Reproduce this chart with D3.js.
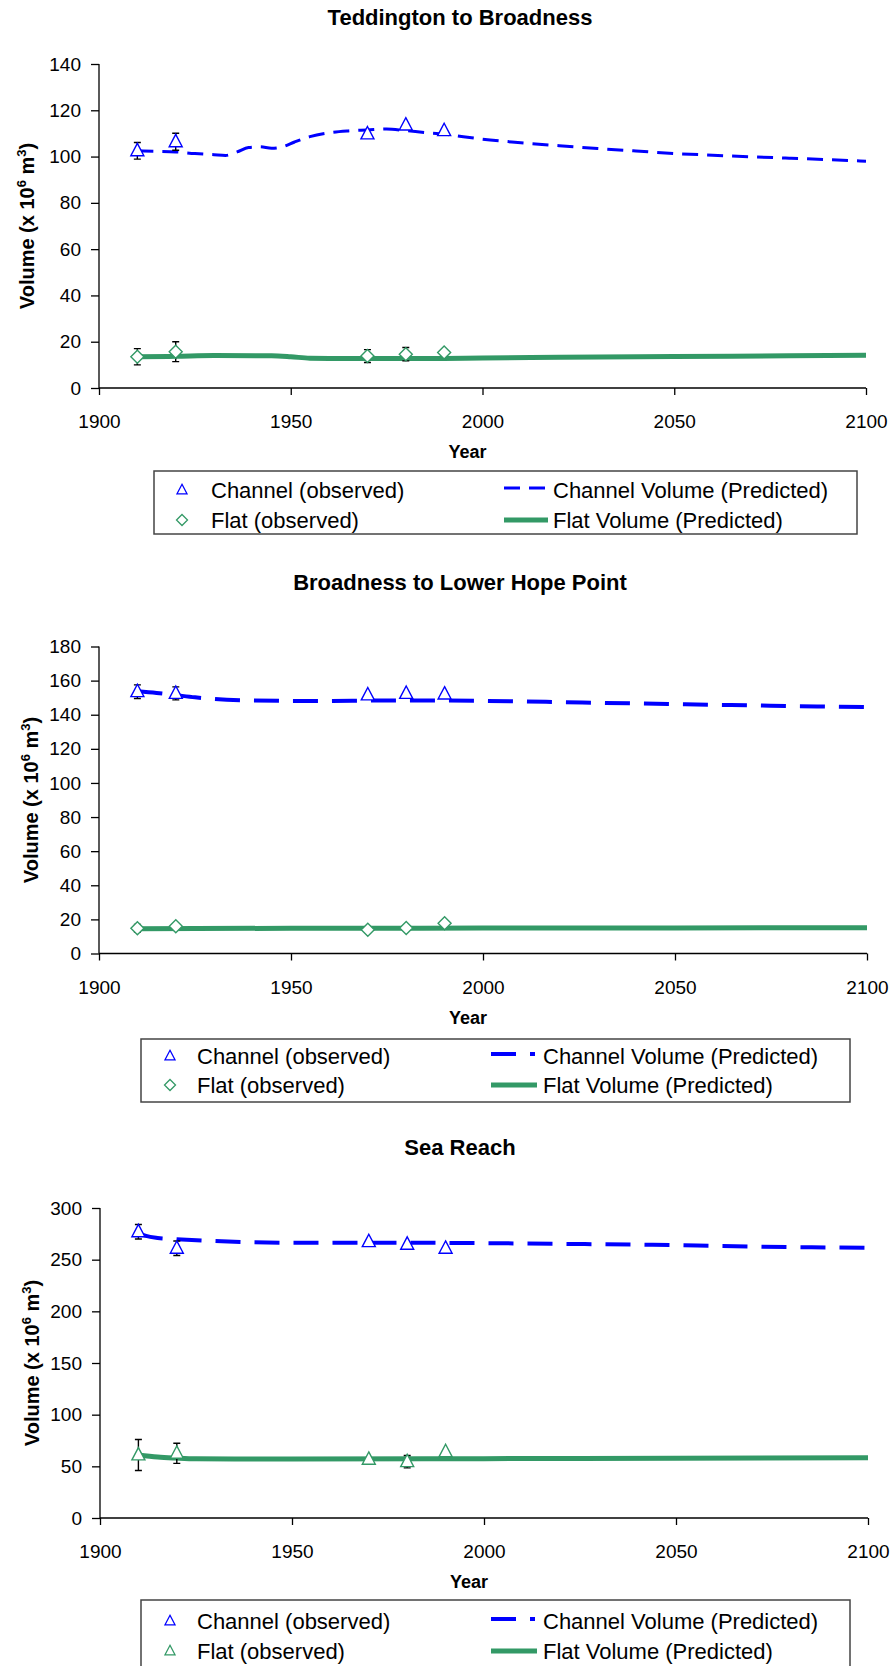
<!DOCTYPE html>
<html><head><meta charset="utf-8">
<script src="https://cdn.jsdelivr.net/npm/d3@7/dist/d3.min.js"></script>
<style>
body{margin:0;background:#fff}
svg{display:block}
text{font-family:"Liberation Sans",Arial,Helvetica,sans-serif;fill:#000}
</style>
</head><body>
<svg id="c" width="893" height="1666"></svg>
<script>
// ---------- shared labels ----------
const xTickValues = [1900, 1950, 2000, 2050, 2100];
const obsYears = [1910, 1920, 1970, 1980, 1990];
const legendLabels = ["Channel (observed)", "Flat (observed)", "Channel Volume (Predicted)", "Flat Volume (Predicted)"];
const chartTitles = ["Teddington to Broadness", "Broadness to Lower Hope Point", "Sea Reach"];
const xAxisTitle = "Year";

// ---------- Chart 1: Teddington to Broadness ----------
const ted_yTicks = [0, 20, 40, 60, 80, 100, 120, 140];
const ted_channelObs = [102.5, 106.4, 109.8, 113.6, 111.2];
const ted_channelErr = [3.6, 3.7, 0, 0, 0];
const ted_flatObs = [13.5, 15.7, 13.8, 14.6, 15.3];
const ted_flatErr = [3.5, 4.3, 2.8, 2.9, 0];
const ted_predYears = [1910, 1915, 1920, 1925, 1930, 1933, 1936, 1939, 1942, 1945, 1948, 1951, 1955, 1960, 1965, 1970, 1975, 1980, 1985, 1990, 1995, 2000, 2010, 2020, 2030, 2040, 2050, 2060, 2070, 2080, 2090, 2100];
const ted_channelPred = [102.5, 102.3, 102.0, 101.3, 100.8, 100.5, 102.0, 103.9, 104.2, 103.6, 104.3, 106.3, 108.6, 110.3, 111.1, 111.5, 111.9, 111.2, 110.4, 109.7, 108.6, 107.5, 106.0, 104.7, 103.5, 102.4, 101.3, 100.6, 99.9, 99.3, 98.7, 98.0];
const ted_flatPredYears = [1910, 1920, 1930, 1945, 1950, 1955, 1965, 1980, 1990, 2000, 2020, 2050, 2080, 2100];
const ted_flatPred = [13.5, 13.7, 14.0, 13.9, 13.5, 12.9, 12.7, 12.7, 12.8, 13.0, 13.3, 13.6, 13.9, 14.1];

// ---------- Chart 2: Broadness to Lower Hope Point ----------
const blh_yTicks = [0, 20, 40, 60, 80, 100, 120, 140, 160, 180];
const blh_channelObs = [153.5, 152.5, 151.6, 152.5, 152.1];
const blh_channelErr = [4.0, 3.8, 0, 0, 0];
const blh_flatObs = [14.8, 16.0, 13.9, 14.9, 17.8];
const blh_flatErr = [2.2, 0, 0, 0, 0];
const blh_predYears = [1910, 1915, 1920, 1925, 1930, 1940, 1950, 1960, 1970, 1980, 1990, 2000, 2010, 2020, 2030, 2040, 2050, 2060, 2070, 2080, 2090, 2100];
const blh_channelPred = [153.8, 152.8, 151.5, 150.2, 149.2, 148.3, 148.1, 148.1, 148.3, 148.4, 148.3, 148.1, 147.8, 147.4, 147.0, 146.6, 146.2, 145.8, 145.5, 145.1, 144.8, 144.5];
const blh_flatPredYears = [1910, 1950, 2000, 2050, 2100];
const blh_flatPred = [14.5, 14.8, 14.9, 15.0, 15.1];

// ---------- Chart 3: Sea Reach ----------
const sea_yTicks = [0, 50, 100, 150, 200, 250, 300];
const sea_channelObs = [277.0, 261.0, 267.4, 264.9, 261.0];
const sea_channelErr = [7, 7, 0, 0, 0];
const sea_flatObs = [61.0, 62.6, 56.8, 54.5, 64.2];
const sea_flatErr = [15, 9.7, 0, 6, 0];
const sea_predYears = [1910, 1912, 1915, 1920, 1930, 1940, 1950, 1960, 1980, 2000, 2020, 2040, 2050, 2060, 2070, 2080, 2090, 2100];
const sea_channelPred = [276.0, 273.0, 271.0, 269.8, 268.0, 266.8, 266.4, 266.3, 266.3, 266.0, 265.3, 264.5, 264.0, 263.3, 262.7, 262.2, 261.8, 261.4];
const sea_flatPredYears = [1910, 1915, 1920, 1925, 1935, 1950, 2000, 2050, 2100];
const sea_flatPred = [61.0, 59.0, 58.0, 57.3, 57.0, 57.0, 57.4, 57.9, 58.3];

// ---------- styles ----------
const BLUE = "#0000ff", GREEN = "#339966";

const svg = d3.select("#c");

function triPath(s){ const h = s*0.95; return `M0,${-h*0.6}L${s/2},${h*0.4}L${-s/2},${h*0.4}Z`; }
function diaPath(s){ const r = s/2; return `M0,${-r}L${r},0L0,${r}L${-r},0Z`; }

function drawChart(c){
  const g = svg.append("g");
  const x = d3.scaleLinear().domain([1900, 2100]).range([c.left, c.right]);
  const y = d3.scaleLinear().domain([0, c.yMax]).range([c.bottom, c.top]);

  // title
  g.append("text").attr("x", 460).attr("y", c.titleY).attr("text-anchor", "middle")
    .style("font-size", "22px").style("font-weight", "bold").text(c.title);

  // axes
  const yAxis = d3.axisLeft(y).tickValues(c.yTicks).tickSize(8).tickPadding(10).tickFormat(d3.format("d"));
  const ya = g.append("g").attr("transform", `translate(${c.left},0)`).call(yAxis);
  const xAxis = d3.axisBottom(x).tickValues(xTickValues).tickSize(7).tickPadding(0).tickFormat(d3.format("d"));
  const xa = g.append("g").attr("transform", `translate(0,${c.bottom})`).call(xAxis);
  [ya, xa].forEach(a => {
    a.select(".domain").attr("stroke", "#000").attr("stroke-width", 1.3);
    a.selectAll(".tick line").attr("stroke", "#000").attr("stroke-width", 1.3);
    a.selectAll("text").style("font-size", "19px").attr("fill", "#000");
  });
  ya.select(".domain").attr("d", `M-0,${c.bottom}V${c.top}`);
  xa.select(".domain").attr("d", `M${c.left},0H${c.right}`);
  xa.selectAll(".tick text").attr("y", 40).attr("dy", null);

  // axis titles
  g.append("text").attr("x", (c.left + c.right) / 2 - 15).attr("y", c.bottom + 70).attr("text-anchor", "middle")
    .style("font-size", "18px").style("font-weight", "bold").text(xAxisTitle);
  const yt = g.append("text").attr("text-anchor", "middle")
    .attr("transform", `translate(${c.yTitleX},${(c.top + c.bottom) / 2}) rotate(-90)`)
    .style("font-size", "20px").style("font-weight", "bold");
  yt.append("tspan").text("Volume (x 10");
  yt.append("tspan").attr("dy", -8).style("font-size", "13px").text("6");
  yt.append("tspan").attr("dy", 8).text(" m");
  yt.append("tspan").attr("dy", -8).style("font-size", "13px").text("3");
  yt.append("tspan").attr("dy", 8).text(")");

  // predicted lines
  const line = d3.line().curve(d3.curveMonotoneX).x(d => x(d[0])).y(d => y(d[1]));
  g.append("path").datum(d3.zip(c.flatPredYears, c.flatPred)).attr("d", line)
    .attr("fill", "none").attr("stroke", GREEN).attr("stroke-width", 5);
  g.append("path").datum(d3.zip(c.predYears, c.channelPred)).attr("d", line)
    .attr("fill", "none").attr("stroke", BLUE).attr("stroke-width", c.dashW).attr("stroke-dasharray", c.dash);

  // error bars + markers
  function obs(vals, errs, color, shape){
    const data = d3.zip(obsYears, vals, errs);
    data.filter(d => d[2] > 0).forEach(d => {
      const cx = x(d[0]), y1 = y(d[1] + d[2]), y2 = y(d[1] - d[2]);
      g.append("path").attr("d", `M${cx},${y1}V${y2}M${cx-3.5},${y1}H${cx+3.5}M${cx-3.5},${y2}H${cx+3.5}`)
        .attr("stroke", "#000").attr("stroke-width", 1.4).attr("fill", "none");
    });
    g.selectAll(null).data(data).enter().append("path")
      .attr("d", shape === "tri" ? triPath(13) : diaPath(13))
      .attr("transform", d => `translate(${x(d[0])},${y(d[1])})`)
      .attr("fill", "#fff").attr("stroke", color).attr("stroke-width", 1.4);
  }
  obs(c.flatObs, c.flatErr, GREEN, c.flatShape);
  obs(c.channelObs, c.channelErr, BLUE, "tri");

  // legend
  const L = c.legend;
  g.append("rect").attr("x", L.x).attr("y", L.y).attr("width", L.w).attr("height", L.h)
    .attr("fill", "#fff").attr("stroke", "#444").attr("stroke-width", 1.5);
  const lt = (tx, ty, s) => g.append("text").attr("x", tx).attr("y", ty + 7.5).style("font-size", "22px").text(s);
  g.append("path").attr("d", triPath(10)).attr("transform", `translate(${L.mx},${L.r1})`)
    .attr("fill", "none").attr("stroke", BLUE).attr("stroke-width", 1.3);
  g.append("path").attr("d", c.flatShape === "tri" ? triPath(10) : diaPath(11)).attr("transform", `translate(${L.mx},${L.r2})`)
    .attr("fill", "none").attr("stroke", GREEN).attr("stroke-width", 1.3);
  lt(L.tx, L.r1, legendLabels[0]);
  lt(L.tx, L.r2, legendLabels[1]);
  g.append("path").attr("d", `M${L.s0},${L.r1 - 2}H${L.s1}`).attr("stroke", BLUE)
    .attr("stroke-width", c.dashW).attr("stroke-dasharray", c.dash);
  g.append("path").attr("d", `M${L.s0},${L.r2}H${L.s1 + 2}`).attr("stroke", GREEN).attr("stroke-width", 5);
  lt(L.t2, L.r1, legendLabels[2]);
  lt(L.t2, L.r2, legendLabels[3]);
}

drawChart({
  title: chartTitles[0], titleY: 25, left: 99, right: 866, top: 64, bottom: 388, yMax: 140, yTicks: ted_yTicks,
  yTitleX: 34, dash: "16 9", dashW: 3, flatShape: "dia",
  channelObs: ted_channelObs, channelErr: ted_channelErr, flatObs: ted_flatObs, flatErr: ted_flatErr,
  predYears: ted_predYears, channelPred: ted_channelPred, flatPredYears: ted_flatPredYears, flatPred: ted_flatPred,
  legend: {x: 154, y: 471, w: 703, h: 63, r1: 490, r2: 520, mx: 182, tx: 211, s0: 504, s1: 546, t2: 553}
});
drawChart({
  title: chartTitles[1], titleY: 590, left: 99, right: 867, top: 646.5, bottom: 953.5, yMax: 180, yTicks: blh_yTicks,
  yTitleX: 38, dash: "25 14", dashW: 4, flatShape: "dia",
  channelObs: blh_channelObs, channelErr: blh_channelErr, flatObs: blh_flatObs, flatErr: blh_flatErr,
  predYears: blh_predYears, channelPred: blh_channelPred, flatPredYears: blh_flatPredYears, flatPred: blh_flatPred,
  legend: {x: 141, y: 1039, w: 709, h: 63, r1: 1056, r2: 1085, mx: 170, tx: 197, s0: 491, s1: 535, t2: 543}
});
drawChart({
  title: chartTitles[2], titleY: 1155, left: 100, right: 868, top: 1208, bottom: 1518, yMax: 300, yTicks: sea_yTicks,
  yTitleX: 39, dash: "25 14", dashW: 4, flatShape: "tri",
  channelObs: sea_channelObs, channelErr: sea_channelErr, flatObs: sea_flatObs, flatErr: sea_flatErr,
  predYears: sea_predYears, channelPred: sea_channelPred, flatPredYears: sea_flatPredYears, flatPred: sea_flatPred,
  legend: {x: 141, y: 1600, w: 709, h: 70, r1: 1621, r2: 1651, mx: 170, tx: 197, s0: 491, s1: 535, t2: 543}
});
</script>
</body></html>
